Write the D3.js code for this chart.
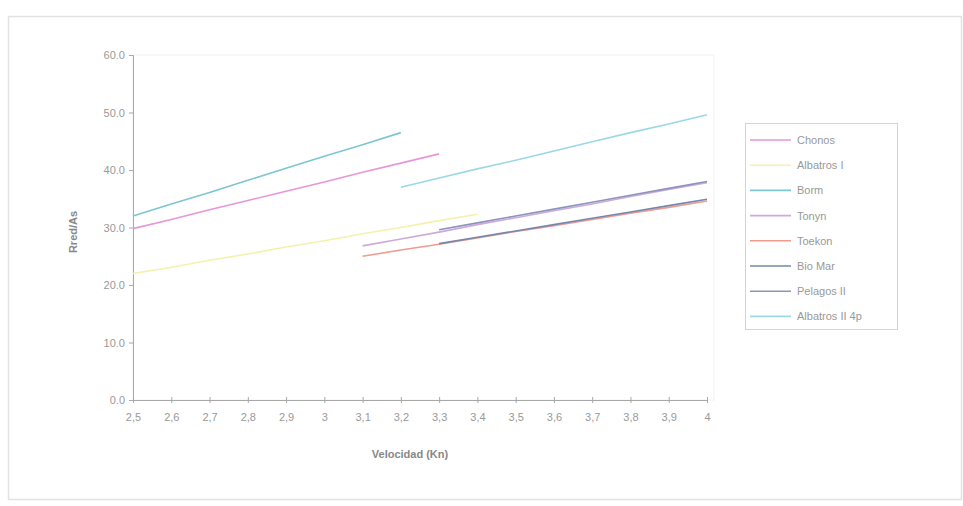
<!DOCTYPE html>
<html><head><meta charset="utf-8">
<script src="https://cdn.jsdelivr.net/npm/d3@7"></script>
<style>body{margin:0;background:#fff;} text{font-family:"Liberation Sans",Arial,sans-serif;}</style>
</head><body>
<svg id="c" width="963" height="506"></svg>
<script>
const categories = [2.5,2.6,2.7,2.8,2.9,3.0,3.1,3.2,3.3,3.4,3.5,3.6,3.7,3.8,3.9,4.0];
const tickLabels = ["2,5","2,6","2,7","2,8","2,9","3","3,1","3,2","3,3","3,4","3,5","3,6","3,7","3,8","3,9","4"];
const yTicks = [0,10,20,30,40,50,60];
const seriesNames = ["Chonos","Albatros I","Borm","Tonyn","Toekon","Bio Mar","Pelagos II","Albatros II 4p"];
const chonos   = [29.8,31.4,33.1,34.7,36.3,37.9,39.6,41.2,42.8,null,null,null,null,null,null,null];
const albatros1= [22.0,23.1,24.3,25.4,26.6,27.7,28.9,30.0,31.2,32.3,null,null,null,null,null,null];
const borm     = [32.0,34.1,36.1,38.2,40.3,42.4,44.4,46.5,null,null,null,null,null,null,null,null];
const tonyn    = [null,null,null,null,null,null,26.8,28.0,29.2,30.5,31.7,32.9,34.1,35.4,36.6,37.8];
const toekon   = [null,null,null,null,null,null,25.0,26.1,27.1,28.2,29.3,30.3,31.4,32.5,33.5,34.6];
const bioMar   = [null,null,null,null,null,null,null,null,27.2,28.3,29.4,30.5,31.6,32.7,33.8,34.9];
const pelagos2 = [null,null,null,null,null,null,null,null,29.6,30.8,32.0,33.2,34.4,35.6,36.8,38.0];
const albatros2= [null,null,null,null,null,null,null,37.0,38.6,40.2,41.7,43.3,44.9,46.5,48.0,49.6];
const colors = ["#e796d8","#f5f1ab","#7cc6d2","#cdaadb","#f09a90","#7487ad","#8c93bd","#9ad8e6"];

const seriesValues = [chonos,albatros1,borm,tonyn,toekon,bioMar,pelagos2,albatros2];
const svg = d3.select("#c");
const textCol = "#999";

// outer frame
svg.append("rect").attr("x",8.5).attr("y",16.5).attr("width",953).attr("height",483)
  .attr("fill","none").attr("stroke","#e2e2e2").attr("stroke-width",1.5);

const x = d3.scaleLinear().domain([2.5,4.0]).range([133,707]);
const y = d3.scaleLinear().domain([0,60]).range([400,55]);

// plot area faint border
svg.append("rect").attr("x",133).attr("y",55).attr("width",581).attr("height",345)
  .attr("fill","none").attr("stroke","#f2f2f2").attr("stroke-width",1);

// y axis
const yAxis = svg.append("g").attr("transform","translate(133,0)")
  .call(d3.axisLeft(y).tickValues(yTicks).tickSize(4).tickFormat(d=>d3.format(".1f")(d)));
yAxis.select(".domain").attr("stroke","#a8a8a8");
yAxis.selectAll(".tick line").attr("stroke","#a8a8a8");
yAxis.selectAll("text").attr("fill",textCol).attr("font-size",11).attr("x",-8)
  .attr("font-family","'Liberation Sans',Arial,sans-serif");

// x axis
const xAxis = svg.append("g").attr("transform","translate(0,400)")
  .call(d3.axisBottom(x).tickValues(categories).tickSize(4).tickSizeOuter(0)
    .tickFormat((d,i)=>tickLabels[i]));
xAxis.select(".domain").attr("stroke","#a8a8a8");
xAxis.selectAll(".tick line").attr("stroke","#a8a8a8").attr("y1",-3).attr("y2",3);
xAxis.selectAll("text").attr("fill",textCol).attr("font-size",11).attr("dy","1.3em")
  .attr("font-family","'Liberation Sans',Arial,sans-serif");

// lines
const line = d3.line().defined(d=>d.v!=null).x(d=>x(d.c)).y(d=>y(d.v));
seriesValues.forEach((vals,i)=>{
  const pts = categories.map((c,j)=>({c:c,v:vals[j]}));
  svg.append("path").datum(pts).attr("d",line).attr("fill","none")
    .attr("stroke",colors[i]).attr("stroke-width",1.6);
});

// axis titles
svg.append("text").attr("x",410).attr("y",458).attr("text-anchor","middle")
  .attr("font-size",11).attr("font-weight","bold").attr("fill","#888").text("Velocidad (Kn)");
svg.append("text").attr("transform","translate(77,232) rotate(-90)").attr("text-anchor","middle")
  .attr("font-size",11).attr("font-weight","bold").attr("fill","#888").text("Rred/As");

// legend
const lg = svg.append("g");
lg.append("rect").attr("x",745.5).attr("y",123.5).attr("width",152).attr("height",206)
  .attr("fill","none").attr("stroke","#d4d4d4").attr("stroke-width",1);
seriesNames.forEach((n,i)=>{
  const yy = 140 + i*25.2;
  lg.append("line").attr("x1",750).attr("x2",791).attr("y1",yy).attr("y2",yy)
    .attr("stroke",colors[i]).attr("stroke-width",1.6);
  lg.append("text").attr("x",797).attr("y",yy+4).attr("font-size",11).attr("fill",textCol).text(n);
});
</script>
</body></html>
